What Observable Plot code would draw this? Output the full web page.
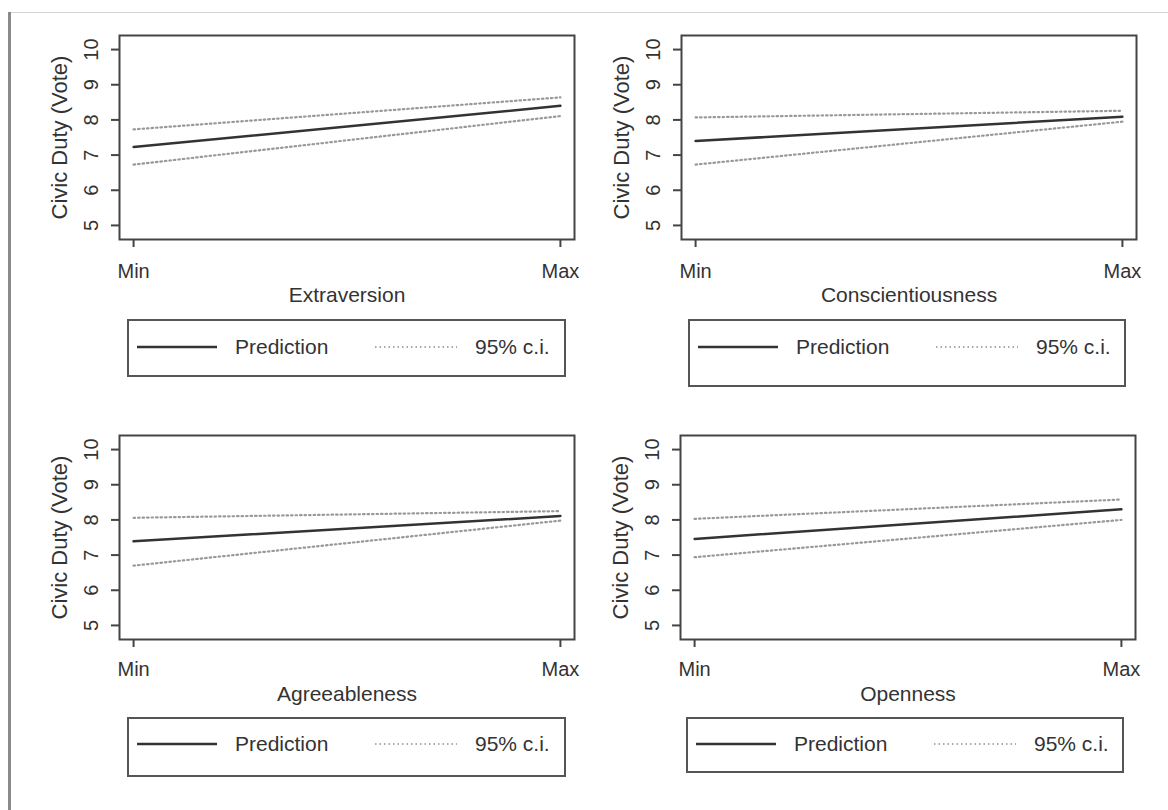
<!DOCTYPE html>
<html>
<head>
<meta charset="utf-8">
<script src="https://cdn.jsdelivr.net/npm/d3@7"></script>
<script src="https://cdn.jsdelivr.net/npm/@observablehq/plot@0.6"></script>
<style>
  body { margin: 0; background: #fff; font-family: "Liberation Sans", Arial, Helvetica, sans-serif; }
  #page { position: relative; width: 1168px; height: 810px; overflow: hidden; background: #fff; }
  .panel { position: absolute; }
  .panel svg { overflow: visible; }
  #topline { position: absolute; left: 10px; top: 12px; width: 1158px; height: 1px; background: #d4d4d4; }
  #leftline { position: absolute; left: 8px; top: 12px; width: 3px; height: 798px; background: #8a8a8a; }
</style>
</head>
<body>
<div id="page">
  <div id="topline"></div>
  <div id="leftline"></div>
</div>
<script>
// ---- data ----
const traits = ["Extraversion", "Conscientiousness", "Agreeableness", "Openness"];
const yTitle = "Civic Duty (Vote)";
const xTicks = [0, 1];
const xTickLabels = ["Min", "Max"];
const yTicks = [5, 6, 7, 8, 9, 10];
const predMin  = [7.23, 7.40, 7.39, 7.46];
const predMax  = [8.40, 8.09, 8.11, 8.30];
const upperMin = [7.73, 8.07, 8.06, 8.03];
const upperMax = [8.64, 8.26, 8.25, 8.58];
const lowerMin = [6.73, 6.73, 6.70, 6.94];
const lowerMax = [8.11, 7.95, 7.98, 8.00];
const legendLabels = ["Prediction", "95% c.i."];

// ---- layout ----
const FONT = '"Liberation Sans", Arial, Helvetica, sans-serif';
const TXT = "#333";
const layout = [
  {left: 0,   top: 0,   ml: 119, mt: 35, tdy: 32, ldy: 56, leg: {x: 127, y: 319, w: 439, h: 58, cy: 28}},
  {left: 560, top: 0,   ml: 121, mt: 35, tdy: 32, ldy: 56, leg: {x: 688, y: 319, w: 438, h: 68, cy: 28}},
  {left: 0,   top: 400, ml: 119, mt: 35, tdy: 30, ldy: 55, leg: {x: 127, y: 717, w: 439, h: 60, cy: 27}},
  {left: 560, top: 400, ml: 120, mt: 35, tdy: 30, ldy: 55, leg: {x: 686, y: 717, w: 438, h: 56, cy: 27}}
];
const page = document.getElementById("page");

traits.forEach((trait, i) => {
  const L = layout[i];
  const pred  = [{x: xTicks[0], y: predMin[i]},  {x: xTicks[1], y: predMax[i]}];
  const upper = [{x: xTicks[0], y: upperMin[i]}, {x: xTicks[1], y: upperMax[i]}];
  const lower = [{x: xTicks[0], y: lowerMin[i]}, {x: xTicks[1], y: lowerMax[i]}];
  const W = 590, H = 310, plotW = 455;
  const ciStyle = {x: "x", y: "y", stroke: "#999", strokeWidth: 2.2, strokeDasharray: "1.5,3"};
  const chart = Plot.plot({
    width: W, height: H,
    marginLeft: L.ml, marginRight: W - L.ml - plotW,
    marginTop: L.mt, marginBottom: 71,
    x: {domain: [-0.033, 1.033], axis: null},
    y: {domain: [4.6, 10.4], axis: null},
    style: {fontFamily: FONT, background: "transparent", overflow: "visible"},
    marks: [
      Plot.line(upper, ciStyle),
      Plot.line(lower, ciStyle),
      Plot.line(pred, {x: "x", y: "y", stroke: "#333", strokeWidth: 2.5}),
      Plot.frame({stroke: "#444", strokeWidth: 2}),
      Plot.axisY(yTicks, {tickSize: 8, fill: "none", stroke: "#444", strokeWidth: 2, label: null}),
      Plot.text(yTicks, {y: d => d, frameAnchor: "left", dx: -28, rotate: -90, textAnchor: "middle", lineAnchor: "middle",
        text: d => String(d), fontSize: 20, fill: TXT}),
      Plot.axisX(xTicks, {tickSize: 8, fill: "none", stroke: "#444", strokeWidth: 2, label: null}),
      Plot.text(xTicks, {x: d => d, frameAnchor: "bottom", dy: L.tdy, lineAnchor: "middle", textAnchor: "middle",
        text: (d, j) => xTickLabels[j], fontSize: 20, fill: TXT}),
      Plot.text([trait], {frameAnchor: "bottom", dy: L.ldy, lineAnchor: "middle", textAnchor: "middle", fontSize: 21, fill: TXT}),
      Plot.text([yTitle], {frameAnchor: "left", dx: -60, rotate: -90, textAnchor: "middle", lineAnchor: "middle", fontSize: 22, fill: TXT})
    ]
  });
  const div = document.createElement("div");
  div.className = "panel";
  div.style.left = L.left + "px";
  div.style.top = L.top + "px";
  div.appendChild(chart);
  page.appendChild(div);

  // legend box
  const g = L.leg;
  const svg = d3.create("svg")
    .attr("width", g.w).attr("height", g.h)
    .style("position", "absolute").style("left", g.x + "px").style("top", g.y + "px")
    .style("font-family", FONT);
  svg.append("rect").attr("x", 1).attr("y", 1).attr("width", g.w - 2).attr("height", g.h - 2)
    .attr("fill", "#fff").attr("stroke", "#555").attr("stroke-width", 2);
  svg.append("line").attr("x1", 10).attr("x2", 90).attr("y1", g.cy).attr("y2", g.cy)
    .attr("stroke", "#333").attr("stroke-width", 2.5);
  svg.append("text").attr("x", 108).attr("y", g.cy).attr("dy", "0.35em")
    .attr("font-size", 21).attr("fill", TXT).text(legendLabels[0]);
  svg.append("line").attr("x1", 248).attr("x2", 330).attr("y1", g.cy).attr("y2", g.cy)
    .attr("stroke", "#aaa").attr("stroke-width", 2).attr("stroke-dasharray", "1.5,3");
  svg.append("text").attr("x", 348).attr("y", g.cy).attr("dy", "0.35em")
    .attr("font-size", 21).attr("fill", TXT).text(legendLabels[1]);
  page.appendChild(svg.node());
});
</script>
</body>
</html>
